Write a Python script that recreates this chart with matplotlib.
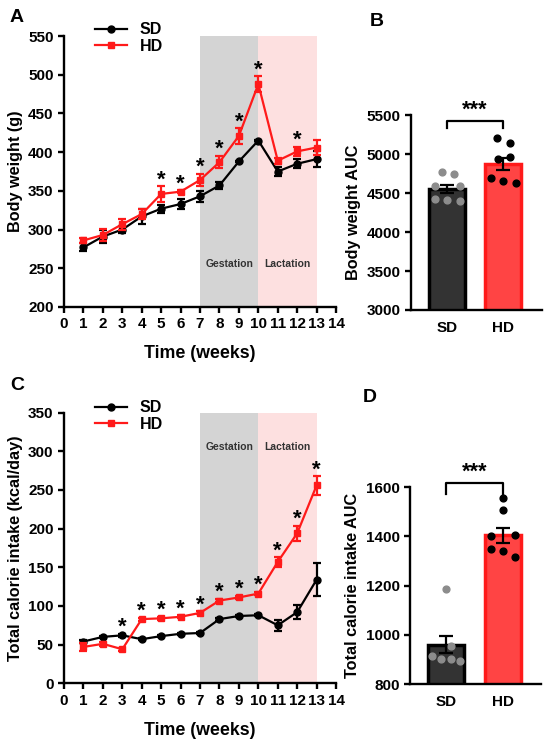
import matplotlib
matplotlib.use("Agg")
import matplotlib.pyplot as plt
from matplotlib.lines import Line2D
import numpy as np

plt.rcParams['font.family'] = ['Liberation Sans', 'DejaVu Sans']
plt.rcParams['font.weight'] = 'bold'
plt.rcParams['axes.labelweight'] = 'bold'

weeks = [1, 2, 3, 4, 5, 6, 7, 8, 9, 10, 11, 12, 13]

bw_sd = [277, 291, 300, 317, 327, 333, 343, 357, 388, 415, 375, 385, 391]
bw_sd_err = [5, 9, 5, 10, 5, 6, 7, 5, 1, 1, 6, 6, 10]
bw_hd = [286, 293, 307, 320, 346, 349, 364, 387, 421, 488, 389, 401, 406]
bw_hd_err = [3, 8, 7, 6, 10, 2, 8, 8, 10, 10, 4, 6, 10]
bw_star_weeks = [5, 6, 7, 8, 9, 10, 12]

ci_sd = [54, 60, 62, 57, 61, 64, 65, 83, 87, 88, 75, 92, 134]
ci_sd_err = [2, 1, 2, 1, 1, 1, 1, 2, 1, 1, 7, 9, 21]
ci_hd = [47, 51, 44, 83, 84, 86, 91, 107, 111, 116, 157, 194, 256]
ci_hd_err = [5, 3, 2, 2, 2, 2, 2, 2, 2, 2, 6, 10, 12]
ci_star_weeks = [3, 4, 5, 6, 7, 8, 9, 10, 11, 12, 13]

groups = ['SD', 'HD']
bw_auc_mean = [4555, 4875]
bw_auc_sem = [50, 80]
bw_auc_sd_pts = [4768, 4742, 4588, 4592, 4425, 4417, 4400]
bw_auc_hd_pts = [5205, 5149, 4969, 4939, 4695, 4652, 4631]

ci_auc_mean = [960, 1405]
ci_auc_sem = [35, 31]
ci_auc_sd_pts = [1186, 955, 914, 903, 903, 894]
ci_auc_hd_pts = [1557, 1509, 1402, 1407, 1350, 1342, 1317]

phases = ['Gestation', 'Lactation']
phase_spans = [(7, 10), (10, 13)]
phase_colors = ['#d4d4d4', '#fde0e0']

# horizontal jitter of the dots (layout only)
bw_sd_jit = [-0.09, 0.12, -0.21, 0.23, -0.21, 0.0, 0.23]
bw_hd_jit = [-0.11, 0.11, 0.11, -0.1, -0.22, 0.0, 0.22]
ci_sd_jit = [0.0, 0.08, -0.25, -0.09, 0.08, 0.24]
ci_hd_jit = [0.0, 0.0, -0.21, 0.22, -0.21, 0.0, 0.22]

RED = '#ff1a1a'
fig = plt.figure(figsize=(5.5, 7.46), dpi=100)


def style_axes(ax):
    for s in ['top', 'right']:
        ax.spines[s].set_visible(False)
    for s in ['left', 'bottom']:
        ax.spines[s].set_linewidth(1.7)
    ax.tick_params(width=1.7, length=4, labelsize=11, direction='out')
    for lab in ax.get_xticklabels() + ax.get_yticklabels():
        lab.set_fontweight('bold')


def line_panel(rect, sd, sde, hd, hde, stars, ylim, yticks, ylabel, phase_y, leg_y):
    ax = fig.add_axes(rect)
    for (a, b), c in zip(phase_spans, phase_colors):
        ax.axvspan(a, b, color=c, lw=0, zorder=0)
    for (a, b), name in zip(phase_spans, phases):
        ax.text((a + b) / 2, phase_y, name, ha='center', va='center', fontsize=7.5,
                fontweight='bold', color='#333333')
    ax.errorbar(weeks, sd, yerr=sde, color='black', marker='o', ms=5, lw=1.6,
                capsize=3, capthick=1.6, elinewidth=1.6, zorder=3)
    ax.errorbar(weeks, hd, yerr=hde, color=RED, marker='s', ms=5, lw=1.6,
                capsize=3, capthick=1.6, elinewidth=1.6, zorder=4)
    for w in stars:
        i = weeks.index(w)
        top = max(sd[i] + sde[i], hd[i] + hde[i])
        ax.annotate('*', (w, top), xytext=(0, -3), textcoords='offset points',
                    ha='center', va='bottom', fontsize=16, fontweight='bold',
                    annotation_clip=False)
    ax.set_xlim(0, 14)
    ax.set_xticks(range(0, 15))
    ax.set_ylim(*ylim)
    ax.set_yticks(yticks)
    ax.set_ylabel(ylabel, fontsize=11.7)
    ax.set_xlabel('Time (weeks)', fontsize=12.8, labelpad=10)
    style_axes(ax)
    handles = [Line2D([], [], color='black', marker='o', ms=5, lw=1.6),
               Line2D([], [], color=RED, marker='s', ms=5, lw=1.6)]
    leg = ax.legend(handles, groups, loc='upper left', bbox_to_anchor=(0.09, leg_y), frameon=False,
                    fontsize=11.5, handlelength=2.0, borderaxespad=0, labelspacing=0.1,
                    handletextpad=0.8)
    for t in leg.get_texts():
        t.set_fontweight('bold')
    return ax


def bar_panel(rect, means, sems, sd_pts, hd_pts, sd_jit, hd_jit, ylim, yticks, ylabel, br_y, br_drop):
    ax = fig.add_axes(rect)
    x = np.arange(len(groups))
    ax.bar(x, means, width=0.64, color=['#333333', '#ff4444'], edgecolor=['black', RED],
           linewidth=2.5, zorder=1)
    ax.errorbar(x, means, yerr=sems, fmt='none', ecolor='black', elinewidth=1.6,
                capsize=5, capthick=1.6, zorder=4)
    ax.scatter(np.array(sd_jit) + 0, sd_pts, s=24, color='#8c8c8c', zorder=3)
    ax.scatter(np.array(hd_jit) + 1, hd_pts, s=24, color='black', zorder=3)
    ax.plot([0, 0, 1, 1], [br_y - br_drop, br_y, br_y, br_y - br_drop], color='black', lw=1.6,
            clip_on=False)
    ax.annotate('***', (0.5, br_y), xytext=(0, 0), textcoords='offset points',
                ha='center', va='bottom', fontsize=15.5, fontweight='bold',
                annotation_clip=False)
    ax.set_xlim(-0.64, 1.68)
    ax.set_xticks(x)
    ax.set_xticklabels(groups)
    ax.set_ylim(*ylim)
    ax.set_yticks(yticks)
    ax.set_ylabel(ylabel, fontsize=11.7)
    style_axes(ax)
    ax.tick_params(axis='x', length=0, pad=8)
    return ax


line_panel([0.1164, 0.5885, 0.4946, 0.3632], bw_sd, bw_sd_err, bw_hd, bw_hd_err, bw_star_weeks,
           (200, 550), range(200, 551, 50), 'Body weight (g)', 256, 1.075)
line_panel([0.1164, 0.0841, 0.4946, 0.3627], ci_sd, ci_sd_err, ci_hd, ci_hd_err, ci_star_weeks,
           (0, 350), range(0, 351, 50), 'Total calorie intake (kcal/day)', 306, 1.07)
bar_panel([0.7467, 0.5845, 0.2383, 0.2609], bw_auc_mean, bw_auc_sem, bw_auc_sd_pts, bw_auc_hd_pts,
          bw_sd_jit, bw_hd_jit, (3000, 5500), range(3000, 5501, 500), 'Body weight AUC', 5430, 95)
bar_panel([0.7455, 0.0831, 0.2383, 0.2637], ci_auc_mean, ci_auc_sem, ci_auc_sd_pts, ci_auc_hd_pts,
          ci_sd_jit, ci_hd_jit, (800, 1600), range(800, 1601, 200), 'Total calorie intake AUC', 1619, 46)

for lab, (x, y) in zip(['A', 'B', 'C', 'D'], [(10, 17), (370, 22), (10, 385), (363, 398)]):
    fig.text(x / 550, 1 - y / 746, lab, fontsize=14, fontweight='bold', va='center', ha='left')

fig.savefig('out.png', dpi=100)
